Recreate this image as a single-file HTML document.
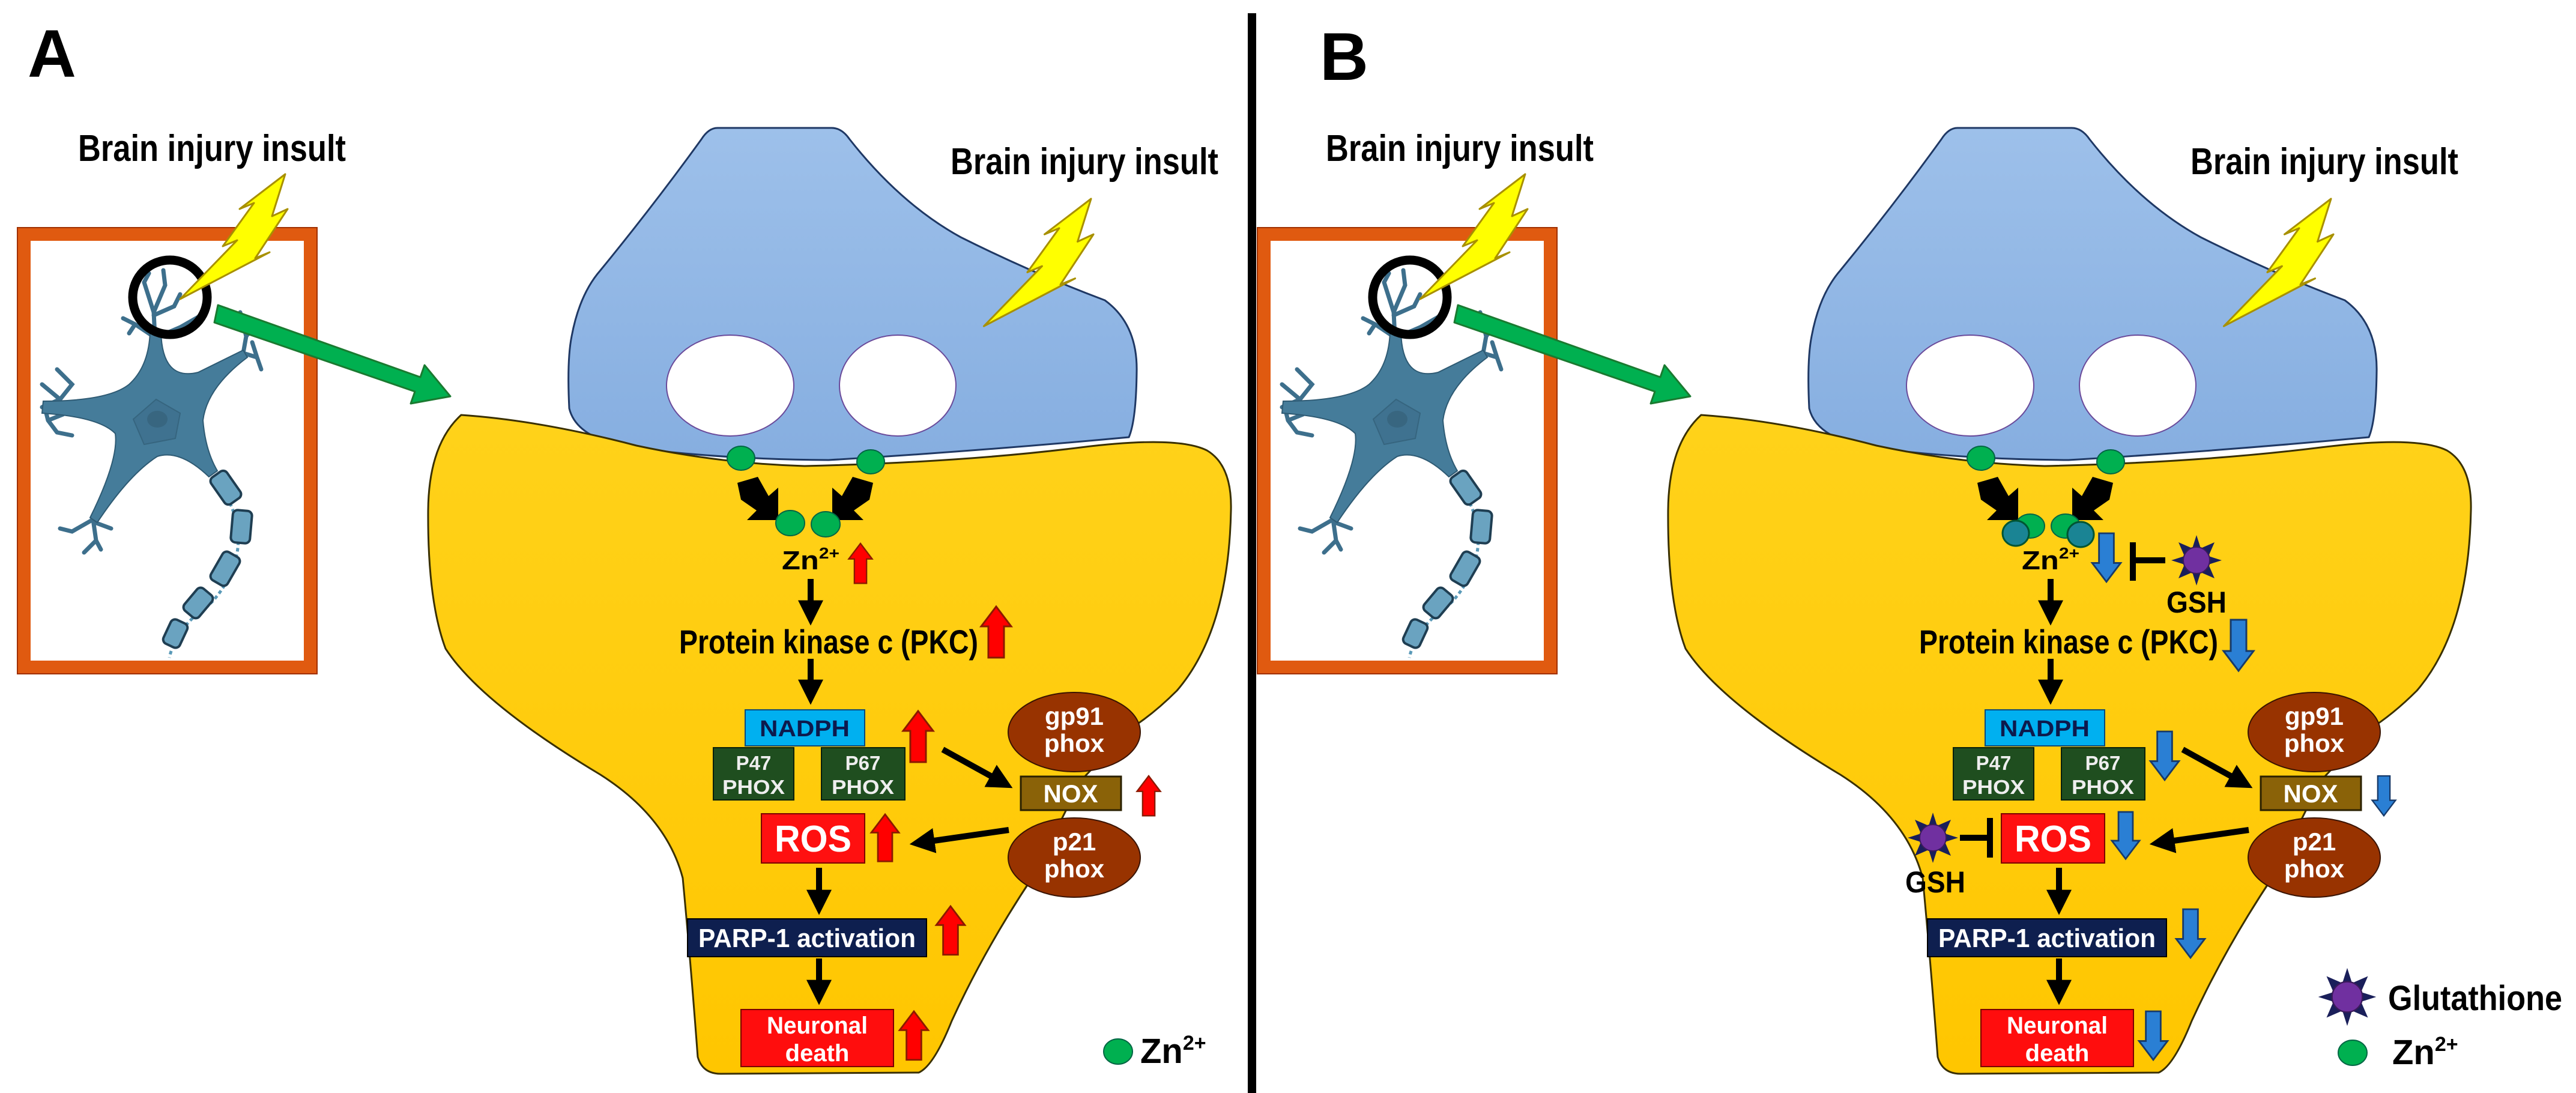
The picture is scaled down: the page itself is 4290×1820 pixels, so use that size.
<!DOCTYPE html>
<html><head><meta charset="utf-8"><style>
html,body{margin:0;padding:0;background:#fff}
svg{display:block}
text{font-family:"Liberation Sans",Arial,sans-serif;font-weight:bold}
</style></head><body>
<svg width="4290" height="1820" viewBox="0 0 4290 1820" xmlns="http://www.w3.org/2000/svg">
<defs>
<linearGradient id="bl" x1="0" y1="0" x2="0" y2="1"><stop offset="0" stop-color="#9dc0ea"/><stop offset="1" stop-color="#86aee0"/></linearGradient>
<linearGradient id="yl" x1="0" y1="0" x2="0" y2="1"><stop offset="0" stop-color="#ffd21a"/><stop offset="1" stop-color="#ffc600"/></linearGradient>
<marker id="ah" viewBox="0 0 10 10" refX="2" refY="5" markerWidth="4.2" markerHeight="4.2" orient="auto"><path d="M0,0 L10,5 L0,10 Z" fill="#000"/></marker>
<path id="up" d="M0,0 L25,33 L13,33 L13,85 L-13,85 L-13,33 L-25,33 Z" fill="#ff0000" stroke="#8a1a00" stroke-width="3"/>
<path id="dn" d="M0,85 L25,52 L13,52 L13,0 L-13,0 L-13,52 L-25,52 Z" fill="#2a7fd4" stroke="#173a6a" stroke-width="3"/>
<g id="star">
<polygon points="0,-42 7,-20 30,-30 20,-7 42,0 20,7 30,30 7,20 0,42 -7,20 -30,30 -20,7 -42,0 -20,-7 -30,-30 -7,-20" fill="#1a1f5a"/>
<circle r="22" fill="#7030a0" stroke="#3a1a5a" stroke-width="2"/>
</g>
<g id="bolt">
<polygon points="0,0 -22,70 4,58 -50,140 -26,130 -175,208 -80,110 -104,120 -52,48 -76,58" fill="#ffff00" stroke="#a89000" stroke-width="3" stroke-linejoin="round"/>
</g>
<g id="cell">
<rect x="40" y="390" width="477" height="721" fill="#fff" stroke="#e05a10" stroke-width="22"/>
<rect x="29" y="379" width="499" height="743" fill="none" stroke="#a03000" stroke-width="2"/>
<g stroke="#3d6f8c" stroke-width="7" fill="none" stroke-linecap="round">
<path d="M258,560 L256,520 L240,470 M256,520 L275,475 L272,450 M240,470 L248,455 M256,525 L290,510 L300,490"/>
<path d="M255,560 L225,540 L205,530 M225,540 L215,555"/>
<path d="M265,560 L300,545 L335,525"/>
<path d="M70,678 L100,665 L120,640 L95,615 M100,665 L70,640 M75,680 L80,700 L95,720 M95,720 L120,725 M80,700 L105,690"/>
<path d="M405,588 L410,560 L400,520 M410,560 L425,540 M405,588 L428,595 L435,615 M428,595 L420,570"/>
<path d="M155,865 L160,900 L168,915 M160,900 L140,920 M155,865 L120,885 L100,880 M158,870 L185,880"/>
</g>
<path d="M250,552 L268,552 Q270,635 330,620 L405,583 L412,595 Q345,645 338,700 Q342,750 362,784 L348,794 Q300,748 262,760 Q215,790 162,870 L150,862 Q198,765 192,722 Q165,694 70,688 L72,668 Q180,668 215,640 Q248,610 250,552 Z" fill="#457c9a" stroke="#2e5a73" stroke-width="2"/>
<polygon points="260,665 300,688 292,730 240,740 222,698" fill="#3f7290" stroke="#36657f" stroke-width="2"/>
<ellipse cx="262" cy="698" rx="17" ry="14" fill="#386680"/>
<path d="M360,800 Q405,860 395,920 Q380,990 320,1030 Q290,1060 282,1095" stroke="#5a9ab8" stroke-width="5" stroke-dasharray="6,5" fill="none"/>
<g fill="#6aa3c0" stroke="#1f3e52" stroke-width="4">
<rect x="-16" y="-27" width="32" height="54" rx="8" transform="translate(376,812) rotate(-35)"/>
<rect x="-16" y="-27" width="32" height="54" rx="8" transform="translate(402,877) rotate(5)"/>
<rect x="-16" y="-27" width="32" height="54" rx="8" transform="translate(375,947) rotate(30)"/>
<rect x="-16" y="-24" width="32" height="48" rx="8" transform="translate(330,1004) rotate(40)"/>
<rect x="-15" y="-22" width="30" height="44" rx="8" transform="translate(292,1055) rotate(25)"/>
</g>
<circle cx="283" cy="495" r="62" fill="none" stroke="#000" stroke-width="15"/>
<use href="#bolt" transform="translate(475,290)"/>
<polygon points="363,508 700,628 707,608 750,660 684,672 691,652 357,537" fill="#00b050" stroke="#1a7a30" stroke-width="3" stroke-linejoin="round"/>
<path d="M1195,213 L1385,213 Q1402,213 1415,232 Q1500,340 1600,395 Q1720,455 1840,500 Q1895,540 1893,620 Q1892,700 1880,728 Q1620,752 1380,766 Q1200,765 1050,745 Q960,730 948,680 Q944,600 952,560 Q965,490 1000,450 Q1090,340 1168,232 Q1180,213 1195,213 Z" fill="url(#bl)" stroke="#1f3864" stroke-width="3"/>
<ellipse cx="1216" cy="642" rx="106" ry="84" fill="#fff" stroke="#6a4a9a" stroke-width="2"/>
<ellipse cx="1495" cy="642" rx="97" ry="84" fill="#fff" stroke="#6a4a9a" stroke-width="2"/>
<use href="#bolt" transform="translate(1817,331) scale(1.02)"/>
<path d="M768,691 Q900,700 1060,742 Q1200,772 1340,776 Q1600,770 1800,745 Q1960,725 2010,750 Q2052,775 2050,850 Q2046,1050 1960,1150 Q1920,1190 1880,1215 L1800,1300 L1720,1460 Q1640,1580 1585,1700 Q1555,1775 1530,1786 L1200,1788 Q1170,1788 1162,1760 Q1150,1600 1137,1462 Q1110,1360 1000,1290 Q800,1170 742,1080 Q712,1000 713,850 Q714,740 768,691 Z" fill="url(#yl)" stroke="#3a3000" stroke-width="3"/>
<ellipse cx="1234" cy="763" rx="23" ry="20" fill="#00b050" stroke="#064" stroke-width="2"/>
<ellipse cx="1450" cy="769" rx="23" ry="20" fill="#00b050" stroke="#064" stroke-width="2"/>
<polygon points="1228,804 1262,794 1280,826 1296,812 1296,866 1244,866 1260,850 1234,832" fill="#000"/>
<polygon points="1454,804 1420,794 1402,826 1386,812 1386,866 1438,866 1422,850 1448,832" fill="#000"/>
<g stroke="#000" stroke-width="10" marker-end="url(#ah)">
<line x1="1350" y1="964" x2="1350" y2="1008"/>
<line x1="1350" y1="1097" x2="1350" y2="1140"/>
<line x1="1364" y1="1445" x2="1364" y2="1490"/>
<line x1="1364" y1="1596" x2="1364" y2="1640"/>
<line x1="1570" y1="1248" x2="1657" y2="1296"/>
<line x1="1680" y1="1382" x2="1548" y2="1401"/>
</g>
<rect x="1241" y="1182" width="199" height="60" fill="#00b0f0" stroke="#0a4a7a" stroke-width="2"/>
<rect x="1188" y="1245" width="134" height="87" fill="#1f4e1f" stroke="#0a200a" stroke-width="2"/>
<rect x="1368" y="1245" width="139" height="87" fill="#1f4e1f" stroke="#0a200a" stroke-width="2"/>
<ellipse cx="1789" cy="1219" rx="110" ry="66" fill="#983300" stroke="#3a1400" stroke-width="2"/>
<ellipse cx="1789" cy="1428" rx="110" ry="66" fill="#983300" stroke="#3a1400" stroke-width="2"/>
<rect x="1700" y="1293" width="167" height="56" fill="#8a6208" stroke="#2a2000" stroke-width="3"/>
<rect x="1268" y="1355" width="172" height="82" fill="#ff1010" stroke="#7a0000" stroke-width="2"/>
<rect x="1145" y="1530" width="398" height="63" fill="#0e1f4f" stroke="#000" stroke-width="2"/>
<rect x="1234" y="1681" width="254" height="95" fill="#ff0d0d" stroke="#7a0000" stroke-width="2"/>
</g>
</defs>

<rect x="2078" y="22" width="14" height="1798" fill="#000"/>

<!-- PANEL A -->
<use href="#cell"/>
<text x="46" y="128" font-size="112">A</text>
<text x="130" y="268" font-size="62" textLength="446" lengthAdjust="spacingAndGlyphs">Brain injury insult</text>
<text x="1583" y="290" font-size="62" textLength="446" lengthAdjust="spacingAndGlyphs">Brain injury insult</text>
<ellipse cx="1316" cy="871" rx="24" ry="21" fill="#00b050" stroke="#064" stroke-width="2"/>
<ellipse cx="1375" cy="873" rx="24" ry="21" fill="#00b050" stroke="#064" stroke-width="2"/>
<text x="1302" y="948" font-size="44" textLength="96" lengthAdjust="spacingAndGlyphs">Zn<tspan font-size="26" dy="-18">2+</tspan></text>
<text x="1131" y="1088" font-size="56" textLength="498" lengthAdjust="spacingAndGlyphs">Protein kinase c (PKC)</text>
<text x="1340" y="1226" font-size="38" fill="#0d1a4d" text-anchor="middle" textLength="150" lengthAdjust="spacingAndGlyphs">NADPH</text>
<text x="1255" y="1282" font-size="33" fill="#eee" text-anchor="middle">P47</text>
<text x="1255" y="1322" font-size="33" fill="#eee" text-anchor="middle" textLength="104" lengthAdjust="spacingAndGlyphs">PHOX</text>
<text x="1437" y="1282" font-size="33" fill="#eee" text-anchor="middle">P67</text>
<text x="1437" y="1322" font-size="33" fill="#eee" text-anchor="middle" textLength="104" lengthAdjust="spacingAndGlyphs">PHOX</text>
<text x="1789" y="1207" font-size="42" fill="#fff" text-anchor="middle">gp91</text>
<text x="1789" y="1252" font-size="42" fill="#fff" text-anchor="middle">phox</text>
<text x="1783" y="1336" font-size="42" fill="#fff" text-anchor="middle">NOX</text>
<text x="1789" y="1416" font-size="42" fill="#fff" text-anchor="middle">p21</text>
<text x="1789" y="1461" font-size="42" fill="#fff" text-anchor="middle">phox</text>
<text x="1354" y="1418" font-size="62" fill="#fff" text-anchor="middle" textLength="128" lengthAdjust="spacingAndGlyphs">ROS</text>
<text x="1344" y="1577" font-size="44" fill="#fff" text-anchor="middle" textLength="362" lengthAdjust="spacingAndGlyphs">PARP-1 activation</text>
<text x="1361" y="1721" font-size="40" fill="#fff" text-anchor="middle" textLength="168" lengthAdjust="spacingAndGlyphs">Neuronal</text>
<text x="1361" y="1767" font-size="40" fill="#fff" text-anchor="middle">death</text>
<use href="#up" transform="translate(1433,905) scale(0.78)"/>
<use href="#up" transform="translate(1659,1010)"/>
<use href="#up" transform="translate(1529,1184)"/>
<use href="#up" transform="translate(1913,1292) scale(0.78)"/>
<use href="#up" transform="translate(1474,1356) scale(0.92)"/>
<use href="#up" transform="translate(1583,1509) scale(0.95)"/>
<use href="#up" transform="translate(1522,1684) scale(0.95)"/>
<ellipse cx="1862" cy="1751" rx="24" ry="21" fill="#00b050" stroke="#064" stroke-width="2"/>
<text x="1899" y="1770" font-size="58">Zn<tspan font-size="34" dy="-22">2+</tspan></text>

<!-- PANEL B -->
<use href="#cell" transform="translate(2065,0)"/>
<text x="2198" y="133" font-size="112">B</text>
<text x="2208" y="268" font-size="62" textLength="446" lengthAdjust="spacingAndGlyphs">Brain injury insult</text>
<text x="3648" y="290" font-size="62" textLength="446" lengthAdjust="spacingAndGlyphs">Brain injury insult</text>
<ellipse cx="3381" cy="876" rx="24" ry="20" fill="#00b050" stroke="#064" stroke-width="2"/>
<ellipse cx="3357" cy="888" rx="22" ry="21" fill="#1a8494" stroke="#053" stroke-width="3"/>
<ellipse cx="3440" cy="876" rx="24" ry="20" fill="#00b050" stroke="#064" stroke-width="2"/>
<ellipse cx="3465" cy="890" rx="22" ry="21" fill="#1a8494" stroke="#053" stroke-width="3"/>
<text x="3367" y="948" font-size="44" textLength="96" lengthAdjust="spacingAndGlyphs">Zn<tspan font-size="26" dy="-18">2+</tspan></text>
<text x="3196" y="1088" font-size="56" textLength="498" lengthAdjust="spacingAndGlyphs">Protein kinase c (PKC)</text>
<g transform="translate(2065,0)">
<text x="1340" y="1226" font-size="38" fill="#0d1a4d" text-anchor="middle" textLength="150" lengthAdjust="spacingAndGlyphs">NADPH</text>
<text x="1255" y="1282" font-size="33" fill="#eee" text-anchor="middle">P47</text>
<text x="1255" y="1322" font-size="33" fill="#eee" text-anchor="middle" textLength="104" lengthAdjust="spacingAndGlyphs">PHOX</text>
<text x="1437" y="1282" font-size="33" fill="#eee" text-anchor="middle">P67</text>
<text x="1437" y="1322" font-size="33" fill="#eee" text-anchor="middle" textLength="104" lengthAdjust="spacingAndGlyphs">PHOX</text>
<text x="1789" y="1207" font-size="42" fill="#fff" text-anchor="middle">gp91</text>
<text x="1789" y="1252" font-size="42" fill="#fff" text-anchor="middle">phox</text>
<text x="1783" y="1336" font-size="42" fill="#fff" text-anchor="middle">NOX</text>
<text x="1789" y="1416" font-size="42" fill="#fff" text-anchor="middle">p21</text>
<text x="1789" y="1461" font-size="42" fill="#fff" text-anchor="middle">phox</text>
<text x="1354" y="1418" font-size="62" fill="#fff" text-anchor="middle" textLength="128" lengthAdjust="spacingAndGlyphs">ROS</text>
<text x="1344" y="1577" font-size="44" fill="#fff" text-anchor="middle" textLength="362" lengthAdjust="spacingAndGlyphs">PARP-1 activation</text>
<text x="1361" y="1721" font-size="40" fill="#fff" text-anchor="middle" textLength="168" lengthAdjust="spacingAndGlyphs">Neuronal</text>
<text x="1361" y="1767" font-size="40" fill="#fff" text-anchor="middle">death</text>
</g>
<use href="#dn" transform="translate(3508,888) scale(0.95)"/>
<use href="#dn" transform="translate(3728,1032)"/>
<use href="#dn" transform="translate(3605,1218) scale(0.95)"/>
<use href="#dn" transform="translate(3970,1292) scale(0.78)"/>
<use href="#dn" transform="translate(3540,1352) scale(0.92)"/>
<use href="#dn" transform="translate(3648,1514) scale(0.95)"/>
<use href="#dn" transform="translate(3586,1684) scale(0.95)"/>
<g stroke="#000" stroke-width="10">
<line x1="3552" y1="903" x2="3552" y2="967"/><line x1="3552" y1="933" x2="3606" y2="933"/>
<line x1="3314" y1="1362" x2="3314" y2="1428"/><line x1="3314" y1="1395" x2="3264" y2="1395"/>
</g>
<use href="#star" transform="translate(3658,933)"/>
<use href="#star" transform="translate(3219,1395)"/>
<text x="3658" y="1020" font-size="50" text-anchor="middle" textLength="100" lengthAdjust="spacingAndGlyphs">GSH</text>
<text x="3223" y="1486" font-size="50" text-anchor="middle" textLength="100" lengthAdjust="spacingAndGlyphs">GSH</text>
<use href="#star" transform="translate(3909,1660) scale(1.15)"/>
<text x="3977" y="1682" font-size="58" textLength="290" lengthAdjust="spacingAndGlyphs">Glutathione</text>
<ellipse cx="3918" cy="1753" rx="24" ry="21" fill="#00b050" stroke="#064" stroke-width="2"/>
<text x="3984" y="1772" font-size="58">Zn<tspan font-size="34" dy="-22">2+</tspan></text>
</svg>
</body></html>
